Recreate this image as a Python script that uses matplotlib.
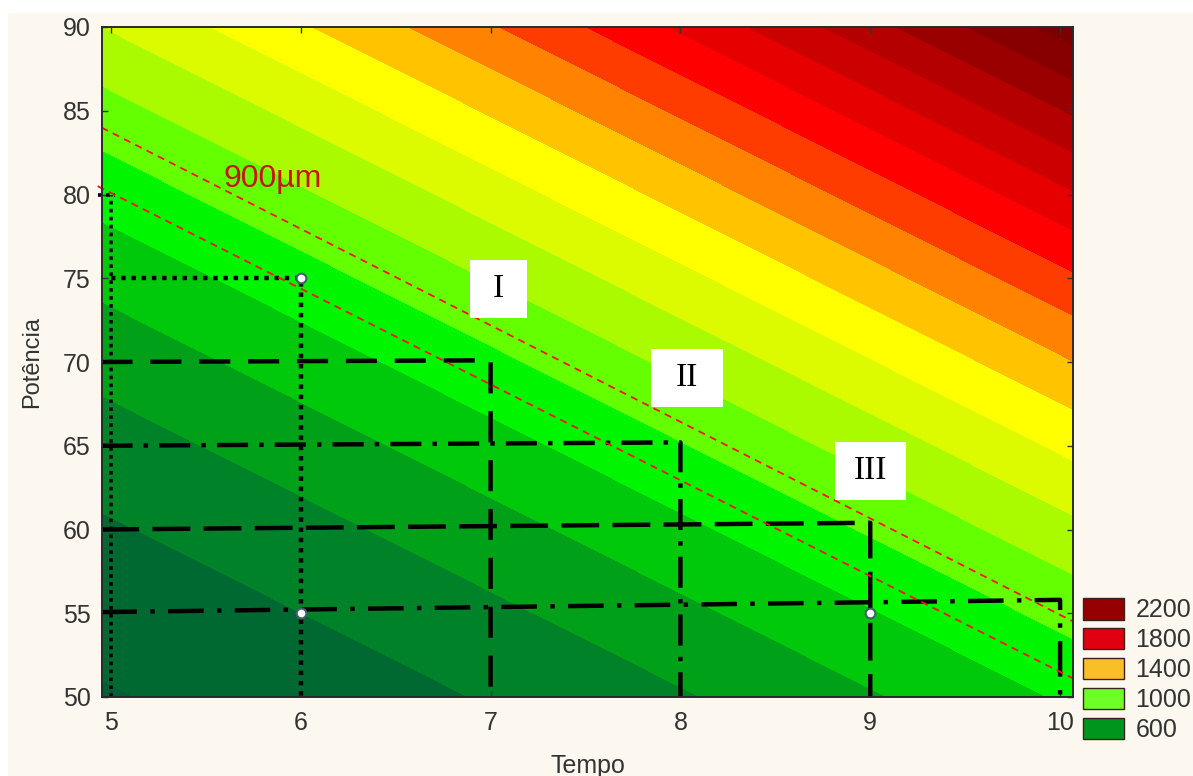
import matplotlib.pyplot as plt
import numpy as np
from matplotlib.patches import Patch, Rectangle

plt.rcParams['font.family'] = ['Liberation Sans', 'DejaVu Sans']

# isolinhas retas e paralelas: v = (potencia - 50) + k*(tempo - 5)
k = 5.7
pos_isolinha = [3.5, 9.8, 16.1, 22.0, 28.0, 33.7, 37.5, 40.5, 43.4, 46.0,
                48.6, 51.3, 53.8, 56.3, 58.8, 61.3, 63.8, 66.3]
val_isolinha = [400, 500, 600, 700, 800, 900, 1000, 1100, 1200, 1300,
                1400, 1500, 1600, 1700, 1800, 1900, 2000, 2100]

niveis = [200, 300, 400, 500, 600, 700, 800, 900, 1000, 1100, 1200, 1300,
          1400, 1500, 1600, 1700, 1800, 1900, 2000, 2100, 2200, 2300]
cores = ['#005a37', '#005f35', '#006932', '#008228', '#00a019', '#00c80a',
         '#00f500', '#64ff00', '#aafa00', '#dcfa00', '#ffff00', '#ffc300',
         '#ff8200', '#ff3c00', '#ff0000', '#e60000', '#cd0000', '#b40000',
         '#9b0000', '#870000', '#7d0000']
legenda_val = [2200, 1800, 1400, 1000, 600]
legenda_cor = ['#960000', '#e1000f', '#fabe28', '#6eff28', '#00961e']

tempo_ticks = [5, 6, 7, 8, 9, 10]
pot_ticks = [50, 55, 60, 65, 70, 75, 80, 85, 90]

# linhas de corte (tempo, potencia)
pontilhada_5 = ([5, 5], [50, 80])
pontilhada_topo = ([4.93, 5.02], [80, 80])
pontilhada_75 = ([5, 6, 6], [75, 75, 50])
tracejada_70 = ([4.95, 7, 7], [70, 70.1, 50])
traco_ponto_65 = ([4.95, 8, 8], [65, 65.2, 50])
tracejada_60 = ([4.95, 9, 9], [60, 60.4, 50])
traco_ponto_55 = ([4.95, 10, 10], [55.07, 55.8, 50])
pontos = ([6, 6, 9], [75, 55, 55])

linha_900 = ([4.95, 10.07], [84.0, 54.5])
linha_inf = ([4.93, 10.07], [80.5, 51.1])

fig = plt.figure(figsize=(11.93, 7.76), dpi=100)
fig.patch.set_facecolor('#fcf8ef')
fig.patches.append(Rectangle((0, 1 - 13 / 776), 1, 13 / 776, transform=fig.transFigure,
                             facecolor='white', edgecolor='none', zorder=-1))
fig.patches.append(Rectangle((0, 0), 8 / 1193, 1, transform=fig.transFigure,
                             facecolor='white', edgecolor='none', zorder=-1))

ax = fig.add_axes([102 / 1193, 1 - 697 / 776, 971 / 1193, 670 / 776])

# ajuste cubico do valor ao longo da direcao perpendicular as isolinhas
p = np.polyfit(pos_isolinha, val_isolinha, 3)
x = np.linspace(4.95, 10.07, 300)
y = np.linspace(50, 90, 300)
X, Y = np.meshgrid(x, y)
V = (Y - 50) + k * (X - 5)
Z = np.polyval(p, V)
cs = ax.contourf(X, Y, Z, levels=niveis, colors=cores)
cs.set_edgecolor('face')
cs.set_linewidth(0.6)

lw = 3.2
ax.plot(*pontilhada_5, color='black', lw=2.6, linestyle=(0, (1, 1.2)))
ax.plot(*pontilhada_topo, color='black', lw=2.6, linestyle=(0, (1, 1.2)), clip_on=False)
ax.plot(*pontilhada_75, color='black', lw=lw, linestyle=(0, (1, 1.3)))
ax.plot(*tracejada_70, color='black', lw=lw, linestyle=(0, (7, 4)))
ax.plot(*traco_ponto_65, color='black', lw=lw, linestyle=(0, (7, 2.5, 1, 2.5)))
ax.plot(*tracejada_60, color='black', lw=lw, linestyle=(0, (8.5, 3)))
ax.plot(*traco_ponto_55, color='black', lw=lw, linestyle=(0, (8, 3, 1, 3)))
ax.plot(*pontos, linestyle='none', marker='o', ms=7, mfc='white', mec='#40606a', mew=1.5)

ax.plot(*linha_900, color='#ff1010', lw=1.3, linestyle=(0, (4, 3)))
ax.plot(*linha_inf, color='#ff1010', lw=1.3, linestyle=(0, (4, 3)), clip_on=False)
ax.text(5.85, 80.9, '900µm', color='#c81414', fontsize=23, ha='center', va='center')

# caixas das regioes
for rot, cx, cy, w in [('I', 7.04, 74.35, 0.30), ('II', 8.035, 69.05, 0.375), ('III', 9.0, 63.5, 0.375)]:
    ax.add_patch(Rectangle((cx - w / 2, cy - 1.73), w, 3.46, facecolor='white', edgecolor='none', zorder=5))
    ax.text(cx, cy, rot, family=['Liberation Serif', 'DejaVu Serif'], fontsize=24,
            ha='center', va='center', zorder=6)

ax.set_xlim(4.953, 10.068)
ax.set_ylim(50, 90)
ax.set_xticks(tempo_ticks)
ax.set_yticks(pot_ticks)
ax.tick_params(direction='in', length=4, width=1, colors='#333333', labelsize=18,
               pad=8, top=True, right=True)
ax.tick_params(axis='x', pad=10)
for s in ax.spines.values():
    s.set_color('#2a2a2a')
    s.set_linewidth(1.4)
ax.set_xlabel('Tempo', fontsize=18, color='#333333', labelpad=14)
ax.set_ylabel('Potência', fontsize=17, color='#333333', labelpad=14)

handles = [Patch(facecolor=c, edgecolor='#3a2020', lw=1) for c in legenda_cor]
fig.legend(handles, [str(v) for v in legenda_val], loc='upper left',
           bbox_to_anchor=(1083 / 1193, 1 - 598 / 776), frameon=False, fontsize=18,
           handlelength=1.65, handleheight=0.95, handletextpad=0.45, labelspacing=0.22,
           borderpad=0, borderaxespad=0, labelcolor='#333333')

fig.savefig('out.png', dpi=100, facecolor=fig.get_facecolor())
